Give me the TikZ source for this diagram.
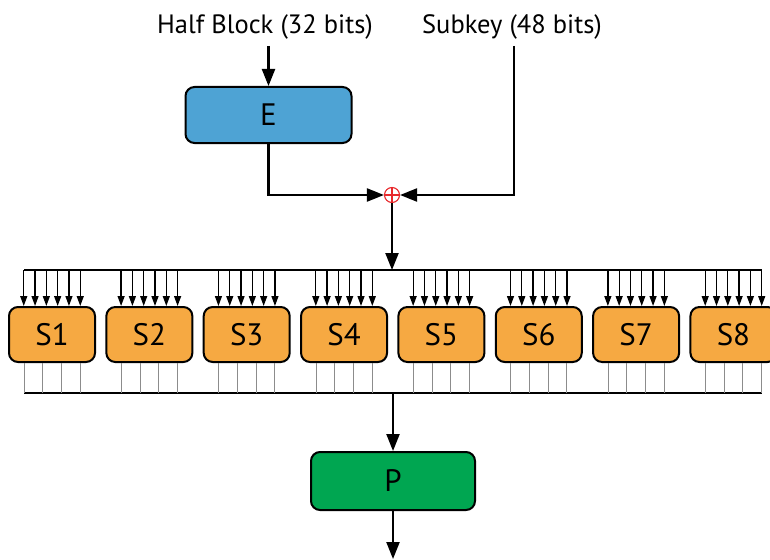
\documentclass[tikz,border=0pt]{standalone}
\usepackage{fontspec}
\setmainfont{PT Sans}
\usetikzlibrary{arrows.meta}

\definecolor{eblue}{HTML}{4EA3D4}
\definecolor{sorange}{HTML}{F6A942}
\definecolor{pgreen}{HTML}{00A651}
\definecolor{xorred}{HTML}{E8282B}
\definecolor{tapgray}{HTML}{8C8C8C}

\tikzset{
  lbl/.style={font=\fontsize{26.5}{30}\selectfont, inner sep=0pt},
  fbox/.style={draw=black, line width=2pt, rounded corners=9pt, inner sep=0pt,
    font=\fontsize{31}{34}\selectfont},
  sbox/.style={fbox, fill=sorange, minimum width=86pt, minimum height=55pt},
  mainarr/.style={line width=2.2pt, -{Triangle[length=17pt,width=13pt]}},
  sarr/.style={line width=1.3pt, -{Triangle[length=10pt,width=7pt]}},
  bus/.style={line width=2pt},
  tap/.style={line width=1pt, draw=tapgray},
  xorsym/.style={circle, draw=xorred, line width=1.1pt, minimum size=15pt, inner sep=0pt,
    path picture={
      \draw[xorred, line width=1.1pt]
        (path picture bounding box.north) -- (path picture bounding box.south)
        (path picture bounding box.west) -- (path picture bounding box.east);
    }},
}

\begin{document}
\begin{tikzpicture}[x=1pt, y=-1pt]
  \useasboundingbox (0,0) rectangle (770,559);

  % inputs
  \node[lbl] (hb) at (265,26.5) {Half Block (32 bits)};
  \node[lbl] (sk) at (512,26.5) {Subkey (48 bits)};
  \coordinate (hbout) at (268.5,46);
  \coordinate (skout) at (514,46);

  % expansion and key mixing
  \node[fbox, fill=eblue, minimum width=166pt, minimum height=56pt] (E) at (268.5,115) {E};
  \node[xorsym] (xr) at (392,195) {};

  \draw[mainarr] (hbout) -- (E.north);
  \draw[mainarr] (E.south) |- (xr.west);
  \draw[mainarr] (skout) |- (xr.east);

  % distribution bus above the S-boxes
  \coordinate (tl) at (24,270);
  \coordinate (tr) at (762,270);
  \coordinate (tin) at (392,270);
  \draw[bus] (tl) -- (tr);
  \draw[mainarr] (xr.south) -- (tin);

  % collection bus below the S-boxes
  \coordinate (bl) at (24,393);
  \coordinate (br) at (762,393);
  \coordinate (bout) at (393,393);
  \draw[bus] (bl) -- (br);

  % S-boxes with six inputs and four outputs each
  \foreach \i in {1,...,8} {
    \pgfmathsetmacro{\cx}{52+(\i-1)*97.35}
    \node[sbox] (S\i) at (\cx,334.5) {S\i};
    \foreach \dx in {-28.25,-16.95,-5.65,5.65,16.95,28.25} {
      \path (S\i.north) ++(\dx,0) coordinate (ti);
      \draw[sarr] (ti |- tl) -- (ti);
    }
    \foreach \dx in {-28,-9.33,9.33,28} {
      \path (S\i.south) ++(\dx,0) coordinate (bo);
      \draw[tap] (bo) -- (bo |- bl);
    }
  }

  % permutation
  \node[fbox, fill=pgreen, minimum width=164pt, minimum height=58pt] (P) at (393,481) {P};
  \coordinate (pout) at (393,559);
  \draw[mainarr] (bout) -- (P.north);
  \draw[mainarr] (P.south) -- (pout);
\end{tikzpicture}
\end{document}
